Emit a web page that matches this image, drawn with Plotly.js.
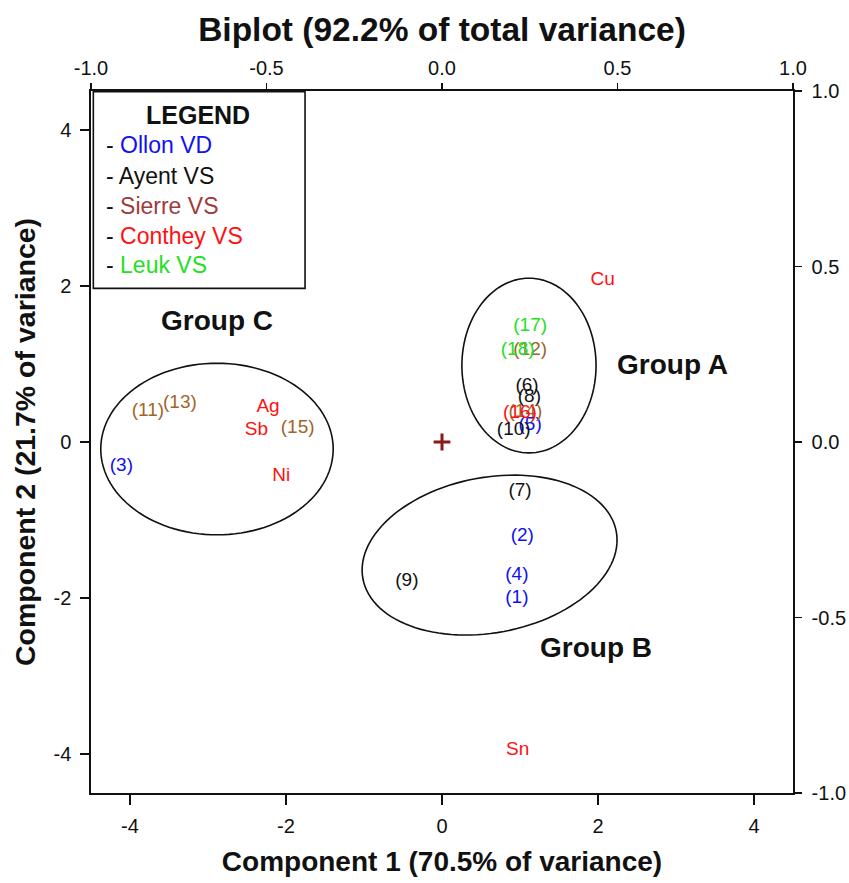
<!DOCTYPE html>
<html>
<head>
<meta charset="utf-8">
<script src="https://cdn.plot.ly/plotly-3.0.1.min.js"></script>
<style>html,body{margin:0;padding:0;background:#fff;}#chart{width:849px;height:883px;}</style>
</head>
<body>
<div id="chart"></div>
<script>
// ---- Data ----
const ollonLabels = ['(1)', '(2)', '(3)', '(4)', '(5)'];
const ollonX = [0.96, 1.03, -4.11, 0.96, 1.13];
const ollonY = [-2.0, -1.21, -0.31, -1.71, 0.21];

const ayentLabels = ['(6)', '(7)', '(8)', '(9)', '(10)'];
const ayentX = [1.09, 1.0, 1.12, -0.45, 0.92];
const ayentY = [0.72, -0.63, 0.58, -1.79, 0.145];

const sierreLabels = ['(11)', '(12)', '(13)', '(14)', '(15)'];
const sierreX = [-3.77, 1.13, -3.36, 1.07, -1.85];
const sierreY = [0.39, 1.18, 0.5, 0.38, 0.17];

const contheyLabels = ['(16)'];
const contheyX = [1.0];
const contheyY = [0.375];

const leukLabels = ['(17)', '(18)'];
const leukX = [1.13, 0.97];
const leukY = [1.48, 1.18];

const variableLabels = ['Cu', 'Sn', 'Ag', 'Sb', 'Ni'];
const variableX = [2.06, 0.97, -2.23, -2.38, -2.06];
const variableY = [2.07, -3.95, 0.45, 0.145, -0.44];

const originX = [0];
const originY = [0];

// Group ellipses (centre, semi-axes, rotation in degrees)
const groupNames = ['Group A', 'Group B', 'Group C'];
const ellipseCX = [1.115, 0.61, -2.885];
const ellipseCY = [0.98, -1.45, -0.09];
const ellipseRX = [0.86, 1.652, 1.49];
const ellipseRY = [1.12, 0.996, 1.10];
const ellipseAngle = [0, 10.6, 0];

const legendNames = ['Ollon VD', 'Ayent VS', 'Sierre VS', 'Conthey VS', 'Leuk VS'];

const xTicks = [-4, -2, 0, 2, 4];
const yTicks = [-4, -2, 0, 2, 4];
const loadingTicks = [-1.0, -0.5, 0.0, 0.5, 1.0];

// ---- Styles ----
const FONT = 'Liberation Sans, Arial, Helvetica, sans-serif';
const C_BLUE = '#1010f5';
const C_BLACK = '#111111';
const C_SIERRE_LEG = '#9e3b3b';
const C_SIERRE = '#a0652a';
const C_RED = '#ff1010';
const C_GREEN = '#22e022';
const legendColors = [C_BLUE, C_BLACK, C_SIERRE_LEG, C_RED, C_GREEN];

function textTrace(name, xs, ys, labels, color) {
  return {
    type: 'scatter', mode: 'text', name: name,
    x: xs, y: ys, text: labels,
    textposition: 'middle center',
    textfont: {family: FONT, size: 19, color: color},
    hoverinfo: 'text', showlegend: false, cliponaxis: false
  };
}

const traces = [
  textTrace('Ollon VD', ollonX, ollonY, ollonLabels, C_BLUE),
  textTrace('Ayent VS', ayentX, ayentY, ayentLabels, C_BLACK),
  textTrace('Sierre VS', sierreX, sierreY, sierreLabels, C_SIERRE),
  textTrace('Conthey VS', contheyX, contheyY, contheyLabels, C_RED),
  textTrace('Leuk VS', leukX, leukY, leukLabels, C_GREEN),
  textTrace('Variables', variableX, variableY, variableLabels, C_RED),
  {
    type: 'scatter', mode: 'markers', x: originX, y: originY, name: 'origin',
    marker: {symbol: 'cross-thin-open', size: 12, color: '#8b1a1a', line: {width: 3, color: '#8b1a1a'}},
    showlegend: false, hoverinfo: 'skip'
  },
  // invisible trace to tie the loadings axes (top/right)
  {
    type: 'scatter', mode: 'markers', x: [0], y: [0], xaxis: 'x2', yaxis: 'y2',
    marker: {opacity: 0}, showlegend: false, hoverinfo: 'skip'
  }
];

// Ellipse outlines as shapes built from the parameters
const shapes = [];
for (let g = 0; g < groupNames.length; g++) {
  const th = ellipseAngle[g] * Math.PI / 180;
  let d = '';
  const N = 120;
  for (let i = 0; i <= N; i++) {
    const t = 2 * Math.PI * i / N;
    const ex = ellipseRX[g] * Math.cos(t), ey = ellipseRY[g] * Math.sin(t);
    const px = ellipseCX[g] + ex * Math.cos(th) - ey * Math.sin(th);
    const py = ellipseCY[g] + ex * Math.sin(th) + ey * Math.cos(th);
    d += (i === 0 ? 'M' : 'L') + px.toFixed(4) + ',' + py.toFixed(4);
  }
  d += 'Z';
  shapes.push({type: 'path', xref: 'x', yref: 'y', path: d, line: {color: '#111', width: 1.6}});
}
// legend box
shapes.push({type: 'rect', xref: 'x', yref: 'y', x0: -4.47, x1: -1.756, y0: 1.97, y1: 4.49,
  line: {color: '#111', width: 1.6}, fillcolor: 'rgba(0,0,0,0)'});

const annotations = [];
const groupLabelPos = [[2.96, 0.99], [1.97, -2.63], [-2.88, 1.56]];
groupNames.forEach((n, i) => annotations.push({
  xref: 'x', yref: 'y', x: groupLabelPos[i][0], y: groupLabelPos[i][1], text: '<b>' + n + '</b>',
  showarrow: false, font: {family: FONT, size: 28, color: '#111'}, xanchor: 'center', yanchor: 'middle'
}));
annotations.push({
  xref: 'x', yref: 'y', x: -3.13, y: 4.19, text: '<b>LEGEND</b>', showarrow: false,
  font: {family: FONT, size: 25, color: '#111'}, xanchor: 'center', yanchor: 'middle'
});
const legendRowY = [3.81, 3.41, 3.02, 2.64, 2.27];
legendNames.forEach((n, i) => annotations.push({
  xref: 'x', yref: 'y', x: -4.33, y: legendRowY[i],
  text: '- <span style="color:' + legendColors[i] + '">' + n + '</span>',
  showarrow: false, font: {family: FONT, size: 23, color: '#111'}, xanchor: 'left', yanchor: 'middle'
}));

const axisCommon = {
  showgrid: false, zeroline: false, showline: true, linecolor: '#111', linewidth: 1.6,
  ticks: 'outside', tickcolor: '#111', tickwidth: 1.6,
  tickfont: {family: FONT, size: 20, color: '#111'}
};

const layout = {
  width: 849, height: 883,
  margin: {l: 91, r: 56, t: 91, b: 90, pad: 0},
  paper_bgcolor: '#fff', plot_bgcolor: '#fff',
  showlegend: false,
  title: {
    text: '<b>Biplot (92.2% of total variance)</b>',
    font: {family: FONT, size: 33.5, color: '#111'},
    x: 0.5, xref: 'paper', xanchor: 'center',
    y: 1 - 29 / 883, yref: 'container', yanchor: 'middle'
  },
  xaxis: Object.assign({}, axisCommon, {
    range: [-4.5, 4.5], tickvals: xTicks, ticktext: xTicks.map(String), ticklen: 10,
    ticklabelstandoff: 4,
    title: {text: '<b>Component 1 (70.5% of variance)</b>', font: {family: FONT, size: 28, color: '#111'}, standoff: 16}
  }),
  yaxis: Object.assign({}, axisCommon, {
    range: [-4.5, 4.5], tickvals: yTicks, ticktext: yTicks.map(String), ticklen: 9,
    ticklabelstandoff: 5,
    title: {text: '<b>Component 2 (21.7% of variance)</b>', font: {family: FONT, size: 28.5, color: '#111'}, standoff: 9}
  }),
  xaxis2: Object.assign({}, axisCommon, {
    overlaying: 'x', side: 'top', anchor: 'y', range: [-1, 1],
    tickvals: loadingTicks, ticktext: loadingTicks.map(v => v.toFixed(1)), ticklen: 6
  }),
  yaxis2: Object.assign({}, axisCommon, {
    overlaying: 'y', side: 'right', anchor: 'x', range: [-1, 1],
    tickvals: loadingTicks, ticktext: loadingTicks.map(v => v.toFixed(1)), ticklen: 7,
    ticklabelstandoff: 6
  }),
  shapes: shapes,
  annotations: annotations
};

Plotly.newPlot('chart', traces, layout, {displayModeBar: false, staticPlot: true});
</script>
</body>
</html>
